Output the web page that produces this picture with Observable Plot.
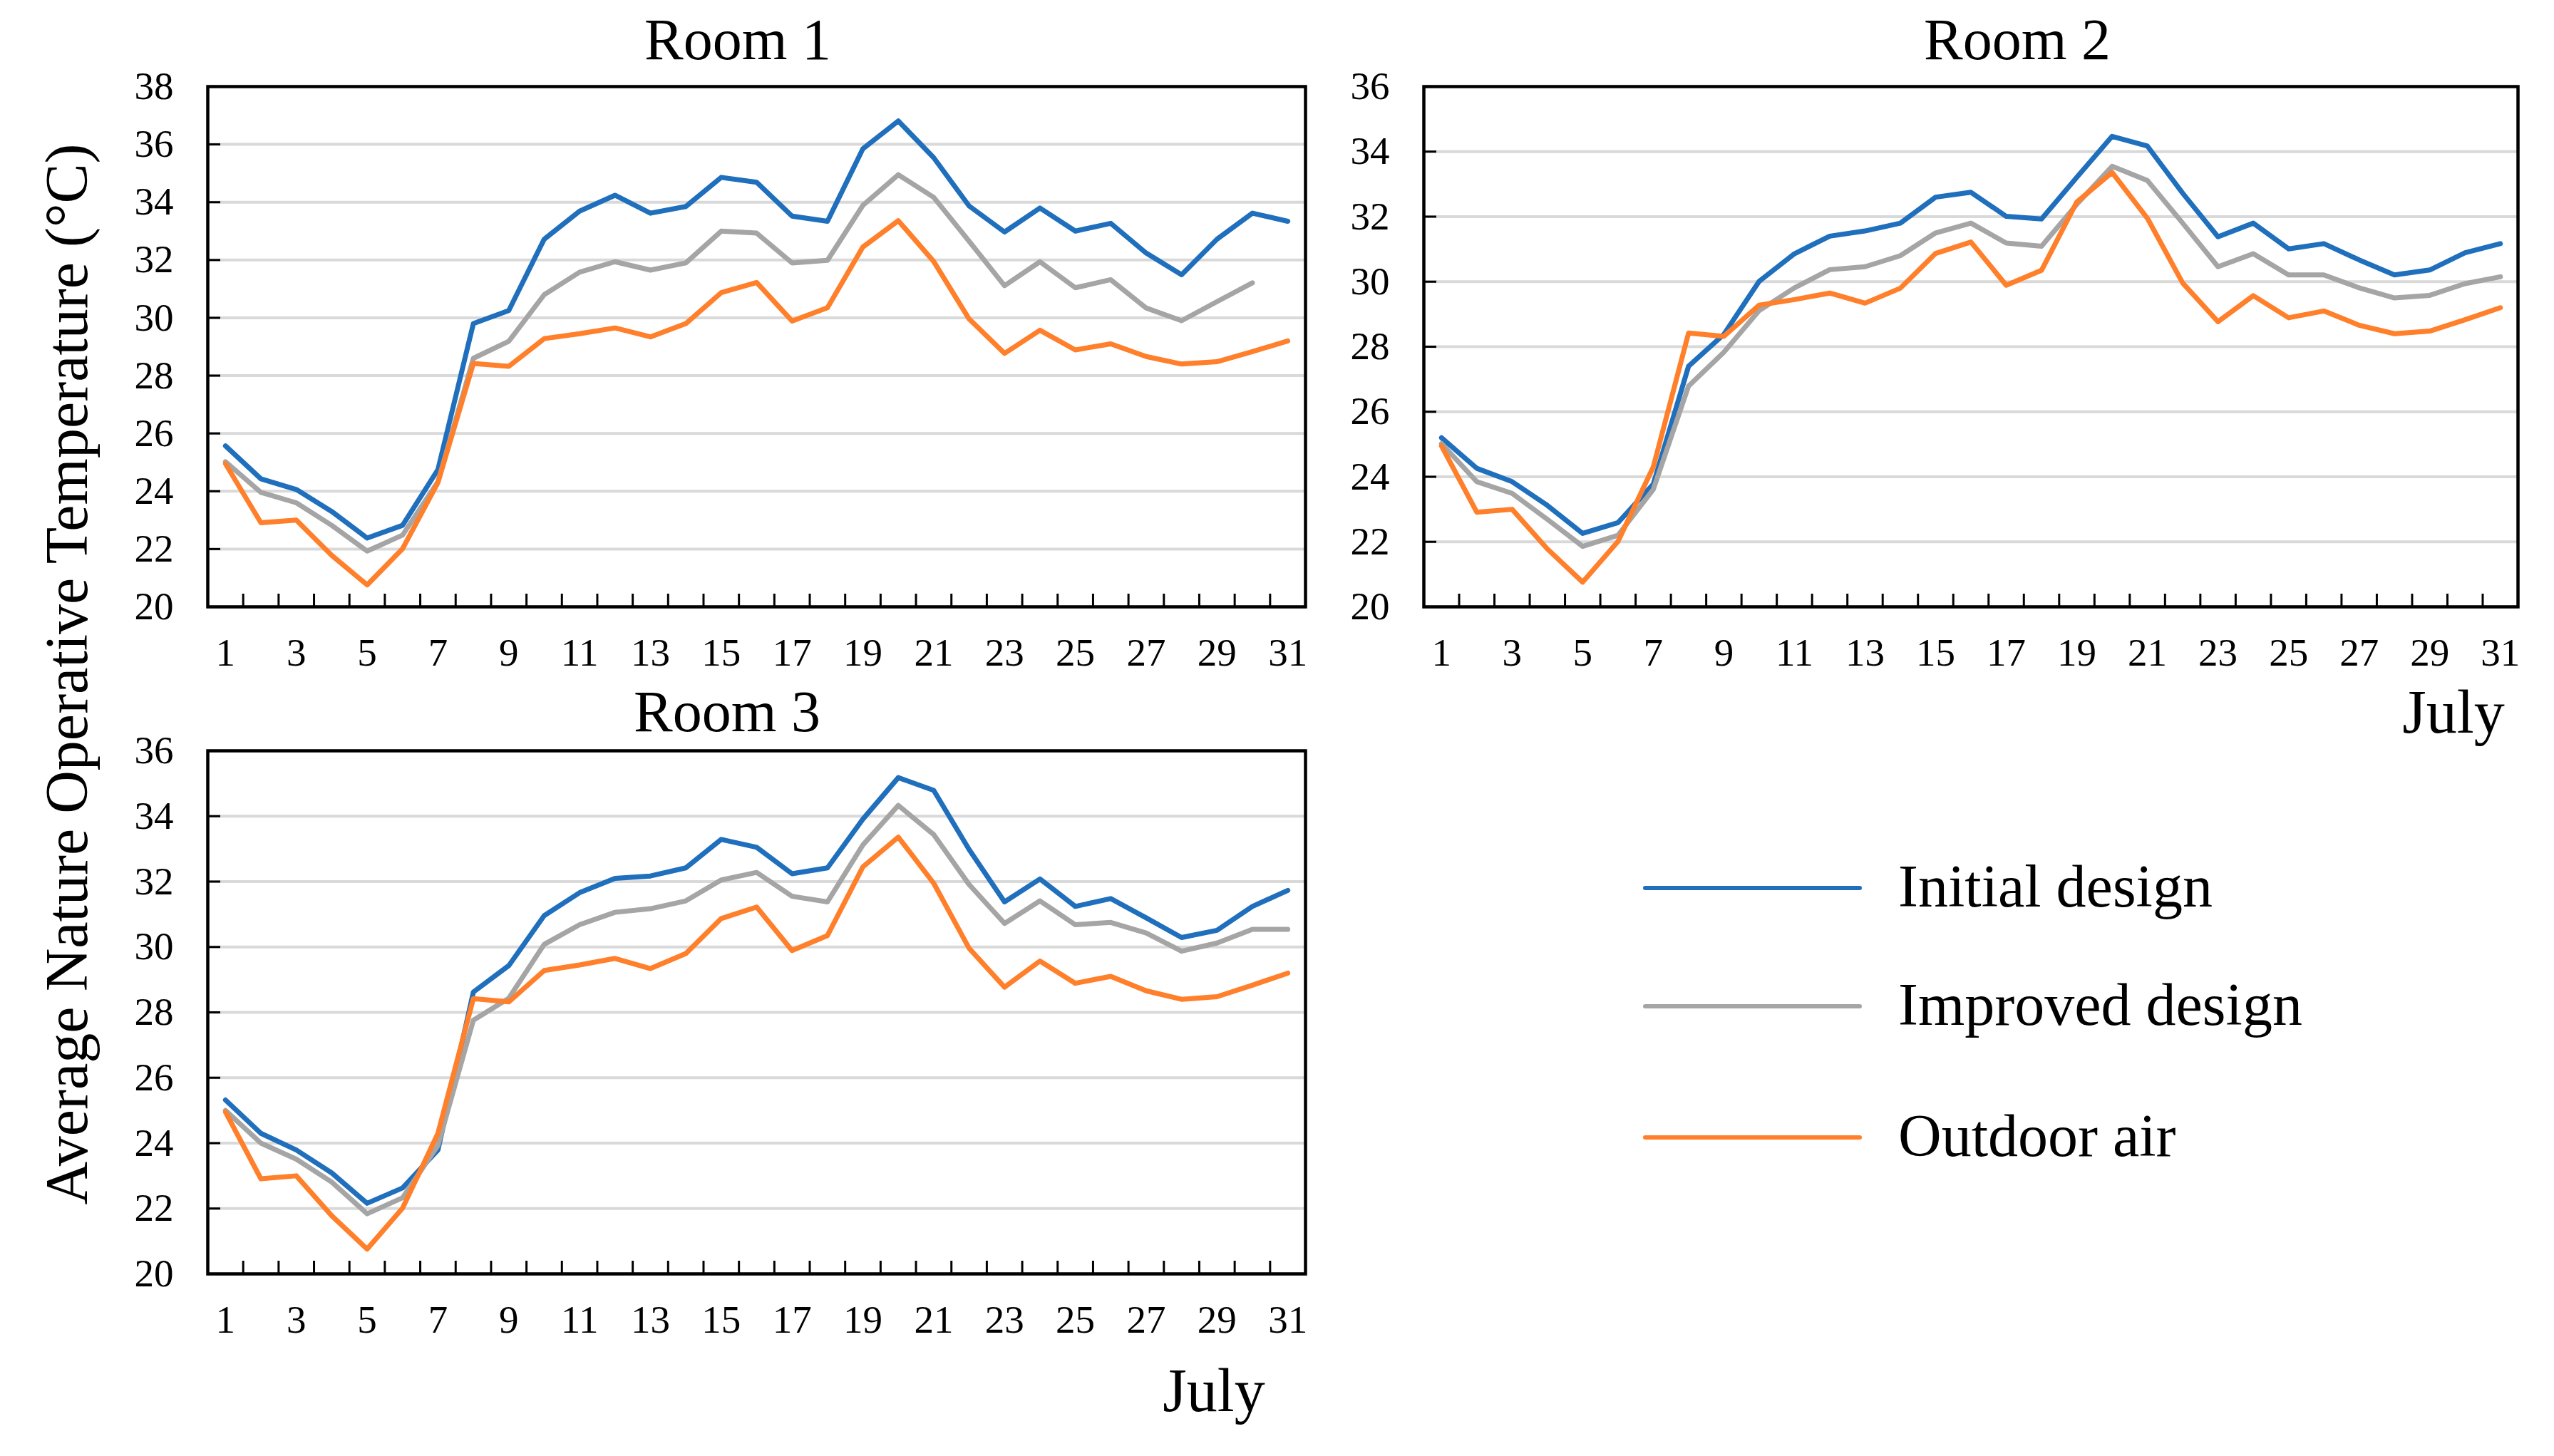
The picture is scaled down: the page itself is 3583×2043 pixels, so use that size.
<!DOCTYPE html>
<html>
<head>
<meta charset="utf-8">
<script src="https://cdn.jsdelivr.net/npm/d3@7"></script>
<script src="https://cdn.jsdelivr.net/npm/@observablehq/plot@0.6"></script>
<style>
  html, body { margin: 0; padding: 0; background: #fff; }
  #root { position: relative; width: 3583px; height: 2043px; overflow: hidden; font-family: "Liberation Serif", "Times New Roman", serif; color: #000; }
  .abs { position: absolute; white-space: nowrap; line-height: 1; }
  .swatch { position: absolute; height: 0; border-top-style: solid; border-top-width: 6px; border-radius: 3px; }
</style>
</head>
<body>
<div id="root"></div>
<script>
// ---------- data ----------
const days = d3.range(1, 32);
const xTickLabels = [1, 3, 5, 7, 9, 11, 13, 15, 17, 19, 21, 23, 25, 27, 29, 31];
const yTicksRoom1 = [20, 22, 24, 26, 28, 30, 32, 34, 36, 38];
const yTicksRoom23 = [20, 22, 24, 26, 28, 30, 32, 34, 36];
const seriesNames = ["Initial design", "Improved design", "Outdoor air"];
const seriesColors = ["#1f6fbd", "#a5a5a5", "#ff7f2a"];
const roomTitles = ["Room 1", "Room 2", "Room 3"];
const yAxisTitle = "Average Nature Operative Temperature (°C)";
const monthLabel = "July";

const outdoorAir = [24.95, 22.91, 23.00, 21.78, 20.76, 22.01, 24.30, 28.42, 28.32, 29.28,
  29.45, 29.65, 29.34, 29.80, 30.87, 31.22, 29.89, 30.35, 32.45, 33.36,
  31.95, 29.96, 28.77, 29.57, 28.89, 29.10, 28.66, 28.40, 28.48, 28.83, 29.20];

const room1Initial = [25.57, 24.43, 24.06, 23.30, 22.38, 22.82, 24.75, 29.80, 30.25, 32.72,
  33.69, 34.24, 33.62, 33.85, 34.86, 34.69, 33.52, 33.34, 35.85, 36.81,
  35.54, 33.87, 32.97, 33.80, 33.00, 33.27, 32.24, 31.49, 32.72, 33.62, 33.34];
const room1Improved = [25.02, 23.96, 23.60, 22.82, 21.93, 22.48, 24.33, 28.60, 29.19, 30.80,
  31.58, 31.94, 31.65, 31.90, 33.00, 32.93, 31.90, 31.99, 33.89, 34.95,
  34.17, 32.65, 31.11, 31.94, 31.04, 31.32, 30.34, 29.90, 30.56, 31.21, null];

const room2Initial = [25.20, 24.26, 23.85, 23.12, 22.26, 22.59, 23.77, 27.40, 28.38, 30.01,
  30.86, 31.40, 31.56, 31.80, 32.60, 32.75, 32.01, 31.93, 33.21, 34.47,
  34.17, 32.72, 31.38, 31.80, 31.01, 31.17, 30.67, 30.21, 30.36, 30.89, 31.17];
const room2Improved = [25.02, 23.85, 23.49, 22.69, 21.86, 22.20, 23.61, 26.79, 27.83, 29.11,
  29.81, 30.37, 30.46, 30.80, 31.50, 31.80, 31.19, 31.09, 32.38, 33.55,
  33.11, 31.80, 30.46, 30.86, 30.21, 30.21, 29.81, 29.50, 29.58, 29.94, 30.15];

const room3Initial = [25.32, 24.30, 23.79, 23.09, 22.16, 22.63, 23.79, 28.62, 29.43, 30.96,
  31.66, 32.10, 32.17, 32.42, 33.29, 33.05, 32.24, 32.42, 33.91, 35.18,
  34.79, 32.98, 31.38, 32.08, 31.24, 31.48, 30.89, 30.29, 30.51, 31.24, 31.73];
const room3Improved = [25.00, 24.00, 23.51, 22.81, 21.84, 22.33, 23.93, 27.76, 28.43, 30.08,
  30.68, 31.06, 31.17, 31.41, 32.05, 32.28, 31.55, 31.38, 33.12, 34.33,
  33.44, 31.91, 30.72, 31.41, 30.68, 30.75, 30.43, 29.87, 30.12, 30.54, 30.54];

// ---------- layout ----------
const root = document.getElementById("root");
const FONT = '"Liberation Serif", "Times New Roman", serif';
const mL = 120, mR = 30, mT = 40, mB = 120;

function rows(initial, improved) {
  const out = [];
  [initial, improved, outdoorAir].forEach((arr, i) => {
    days.forEach((d, j) => {
      if (arr[j] != null) out.push({ day: d, value: arr[j], series: seriesNames[i] });
    });
  });
  return out;
}

function panel(initial, improved, yTicks, frame) {
  const fw = frame.x1 - frame.x0, fh = frame.y1 - frame.y0;
  const boundaries = days.slice(0, -1).map(d => d + 0.5);
  const chart = Plot.plot({
    width: fw + mL + mR,
    height: fh + mT + mB,
    marginLeft: mL, marginRight: mR, marginTop: mT, marginBottom: mB,
    style: { fontFamily: FONT, fontSize: "55px", color: "#000", background: "transparent", overflow: "visible" },
    x: { domain: [0.5, 31.5], ticks: xTickLabels, tickSize: 0, tickPadding: 43, label: null, tickFormat: d => String(d) },
    y: { domain: [yTicks[0], yTicks[yTicks.length - 1]], ticks: yTicks, tickSize: 0, tickPadding: 48, label: null, tickFormat: d => String(d) },
    color: { domain: seriesNames, range: seriesColors },
    marks: [
      Plot.gridY(yTicks, { stroke: "#d9d9d9", strokeOpacity: 1, strokeWidth: 4 }),
      Plot.tickY(yTicks, { stroke: "#000", strokeWidth: 3, insetRight: fw - 18 }),
      Plot.tickX(boundaries, { stroke: "#000", strokeWidth: 3, insetTop: fh - 18 }),
      Plot.line(rows(initial, improved), {
        x: "day", y: "value", z: "series", stroke: "series",
        strokeWidth: 7, strokeLinejoin: "round", strokeLinecap: "round"
      }),
      Plot.frame({ stroke: "#000", strokeWidth: 4.5 })
    ]
  });
  chart.style.position = "absolute";
  chart.style.left = (frame.x0 - mL) + "px";
  chart.style.top = (frame.y0 - mT) + "px";
  root.appendChild(chart);
}

panel(room1Initial, room1Improved, yTicksRoom1, { x0: 291, x1: 1831, y0: 121, y1: 851 });
panel(room2Initial, room2Improved, yTicksRoom23, { x0: 1997, x1: 3532, y0: 121, y1: 851 });
panel(room3Initial, room3Improved, yTicksRoom23, { x0: 291, x1: 1831, y0: 1053, y1: 1787 });

// ---------- text ----------
function text(str, cx, baseline, size, anchor) {
  const el = document.createElement("div");
  el.className = "abs";
  el.textContent = str;
  el.style.fontSize = size + "px";
  el.style.top = (baseline - 0.8375 * size) + "px";
  el.style.left = cx + "px";
  if (anchor === "middle") el.style.transform = "translateX(-50%)";
  root.appendChild(el);
  return el;
}
text(roomTitles[0], 1035, 84, 82, "middle");
text(roomTitles[1], 2830, 84, 82, "middle");
text(roomTitles[2], 1020, 1027, 82, "middle");
text(monthLabel, 3442, 1028, 86, "middle");
text(monthLabel, 1703, 1980, 86, "middle");

// y-axis title (rotated)
const yt = document.createElement("div");
yt.className = "abs";
yt.textContent = yAxisTitle;
yt.style.fontSize = "84px";
yt.style.left = "94px";
yt.style.top = "946px";
yt.style.transform = "translate(-50%, -50%) rotate(-90deg)";
root.appendChild(yt);

// legend
const legendY = [1246, 1412, 1596];
seriesNames.forEach((name, i) => {
  const sw = document.createElement("div");
  sw.className = "swatch";
  sw.style.left = "2305px";
  sw.style.width = "307px";
  sw.style.top = (legendY[i] - 3) + "px";
  sw.style.borderTopColor = seriesColors[i];
  root.appendChild(sw);
  text(name, 2663, legendY[i] + 26, 84, "start");
});
</script>
</body>
</html>
